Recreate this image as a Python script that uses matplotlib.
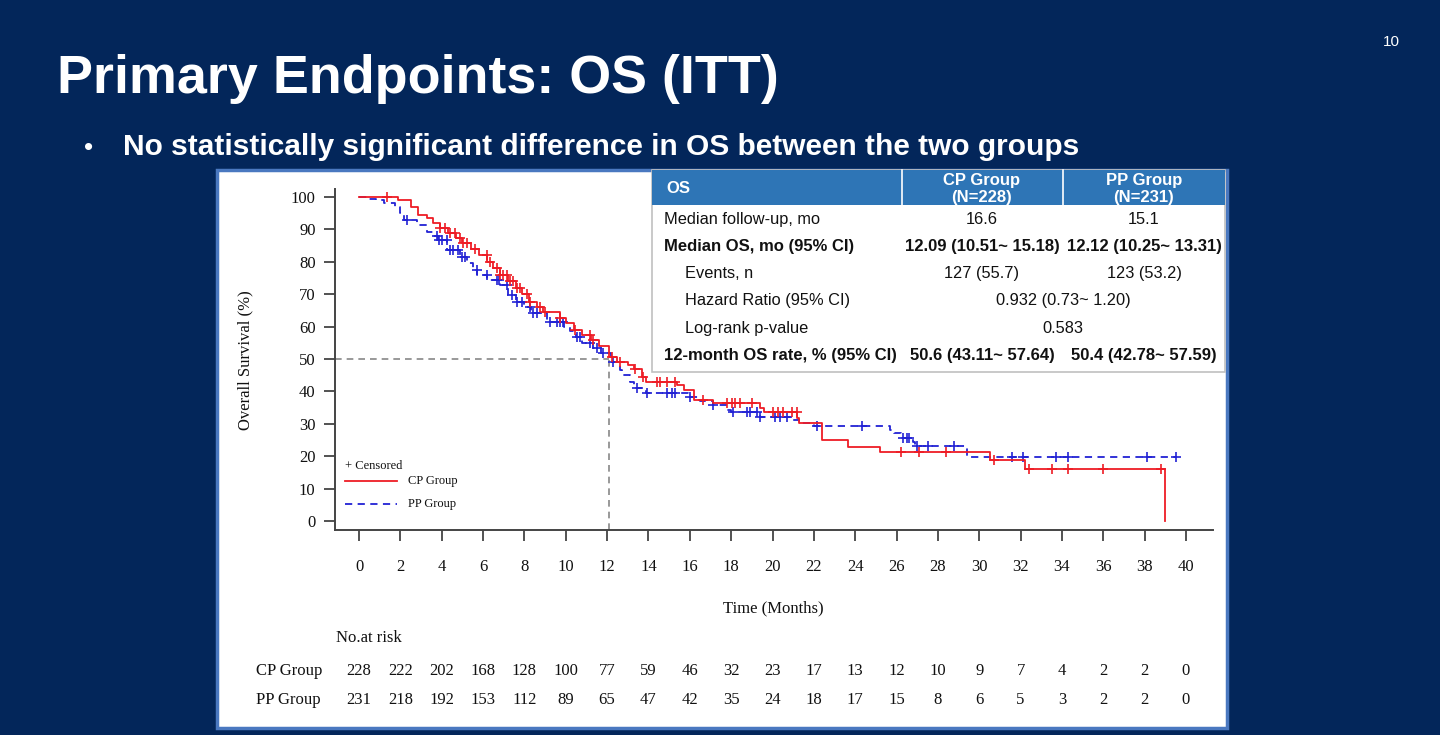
import numpy as np
import matplotlib
matplotlib.use("Agg")
import matplotlib.pyplot as plt
from matplotlib.patches import Rectangle

# ---- data ----
# Kaplan-Meier step points (months, survival %)
cp_time = [0, 1.9, 2.5, 2.85, 3.3, 3.6, 3.9, 4.3, 4.7, 5.0, 5.4, 5.8, 6.2, 6.5, 6.8,
           7.2, 7.6, 7.9, 8.2, 8.6, 8.9, 9.7, 10.0, 10.4, 10.8, 11.2, 11.6, 12.1,
           12.5, 13.0, 13.3, 13.7, 13.9, 15.4, 15.7, 16.2, 17.1, 19.4, 19.6, 21.2,
           21.3, 22.4, 23.65, 25.2, 30.5, 32.2, 39.0]
cp_surv = [100, 99, 97, 94.4, 93.5, 92, 90.4, 89, 87.5, 85.8, 84, 82, 80, 78, 76,
           74, 72, 70, 67.6, 66, 64.5, 62.6, 61, 59, 57.5, 55.9, 54, 50.6,
           49, 48, 47, 44.5, 43, 42, 40.4, 37.3, 36.4, 34.9, 33.6, 31.8,
           30.2, 25, 22.9, 21.2, 18.8, 16.0, 0]

pp_time = [0, 0.5, 0.8, 1.2, 1.75, 2.0, 2.2, 2.8, 3.3, 3.6, 3.8, 4.25, 4.9, 5.2, 5.5,
           5.7, 6.2, 6.8, 7.2, 7.6, 8.0, 8.3, 9.1, 9.9, 10.2, 10.5, 10.8, 11.3, 11.7,
           12.2, 12.6, 12.7, 13.1, 13.3, 13.9, 15.9, 16.5, 17.1, 17.8, 18.0, 19.4,
           21.0, 21.3, 22.0, 25.7, 25.9, 26.2, 26.8, 26.9, 29.4, 39.5]
pp_surv = [100, 99.5, 99, 98, 97, 95, 93, 91.4, 89.3, 88, 86.7, 83.6, 81.6, 79.6, 77.5,
           75.9, 74.4, 72.8, 69.8, 67.7, 66, 64.1, 61.5, 60, 58.5, 56.9, 55, 53.5, 51.9,
           49, 46.6, 45, 43, 41, 39.5, 38.3, 37, 35.8, 34.3, 33.7, 32.2,
           31.2, 30.2, 29.3, 28, 27.3, 25.6, 24.5, 23.1, 19.7, 19.7]

# censoring times
cp_cens = [1.34, 3.92, 4.16, 4.40, 4.64, 4.89, 5.05, 5.21, 5.61, 6.18, 6.34, 6.66, 6.82,
           6.98, 7.14, 7.30, 7.46, 7.63, 7.79, 8.11, 8.27, 8.75, 9.00, 9.72, 10.45,
           11.17, 11.33, 12.22, 12.62, 13.35, 13.75, 14.40, 14.56, 14.88, 15.28,
           16.65, 17.78, 18.03, 18.19, 18.43, 18.99, 20.04, 20.28, 20.52, 20.93,
           21.17, 26.2, 27.1, 28.4, 30.7, 32.4, 33.5, 34.3, 36.0, 38.8]
pp_cens = [2.31, 3.76, 3.89, 4.0, 4.24, 4.40, 4.56, 4.80, 4.97, 5.13, 5.69, 6.18, 6.66,
           6.79, 7.14, 7.38, 7.63, 7.87, 8.27, 8.43, 8.59, 9.24, 9.56, 9.72, 9.88,
           10.53, 10.69, 11.17, 11.50, 11.82, 12.30, 13.43, 13.92, 14.88, 15.12,
           15.28, 16.01, 17.14, 18.11, 18.75, 18.91, 19.24, 19.40, 20.12, 20.36,
           20.69, 22.14, 24.31, 26.3, 26.5, 26.6, 27.0, 27.5, 28.8, 31.6, 32.1,
           33.7, 34.3, 38.1, 39.5]

median_os = 12.1
risk_times = list(range(0, 42, 2))
cp_risk = [228, 222, 202, 168, 128, 100, 77, 59, 46, 32, 23, 17, 13, 12, 10, 9, 7, 4, 2, 2, 0]
pp_risk = [231, 218, 192, 153, 112, 89, 65, 47, 42, 35, 24, 18, 17, 15, 8, 6, 5, 3, 2, 2, 0]

# summary table
tab_header = ["OS", "CP Group\n(N=228)", "PP Group\n(N=231)"]
tab_rows = [
    ("Median follow-up, mo", "16.6", "15.1"),
    ("Median OS, mo (95% CI)", "12.09 (10.51~ 15.18)", "12.12 (10.25~ 13.31)"),
    ("Events, n", "127 (55.7)", "123 (53.2)"),
    ("Hazard Ratio (95% CI)", "0.932 (0.73~ 1.20)", None),
    ("Log-rank p-value", "0.583", None),
    ("12-month OS rate, % (95% CI)", "50.6 (43.11~ 57.64)", "50.4 (42.78~ 57.59)"),
]
tab_bold = [False, True, False, False, False, True]
tab_indent = [False, False, True, True, True, False]

# ---- colours / fonts ----
NAVY = "#03265a"
RED = "#ee1c25"
BLUE = "#2222d4"
SERIF = ["Liberation Serif", "DejaVu Serif"]
SANS = ["Liberation Sans", "DejaVu Sans"]

W, H = 1440, 735
fig = plt.figure(figsize=(W / 100, H / 100), dpi=100, facecolor=NAVY)

# background layer: white panel (pixel coords)
bg = fig.add_axes([0, 0, 1, 1], zorder=0)
bg.set_xlim(0, W)
bg.set_ylim(H, 0)
bg.axis("off")
bg.add_patch(Rectangle((217, 170), 1010, 558, facecolor="white",
                       edgecolor="#4a78c0", lw=2.5))

# title + bullet
bg.text(57, 93, "Primary Endpoints: OS (ITT)", color="white", fontsize=38.8,
        fontweight="bold", family=SANS, va="baseline")
bg.text(84, 155, "\u2022", color="white", fontsize=19, family=SANS, va="baseline")
bg.text(123, 155, "No statistically significant difference in OS between the two groups",
        color="white", fontsize=21.5, fontweight="bold", family=SANS, va="baseline")
bg.text(1391, 42, "10", color="white", fontsize=11, family=SANS, ha="center", va="center")

# ---- KM plot ----
ax_l, ax_r, ax_t, ax_b = 335, 1213, 189, 530
ax = fig.add_axes([ax_l / W, 1 - ax_b / H, (ax_r - ax_l) / W, (ax_b - ax_t) / H], zorder=1)
ax.patch.set_alpha(0)
ax.set_xlim(-24 / 20.675, (ax_r - 359) / 20.675)
ax.set_ylim((521 - ax_b) / 3.24, (521 - ax_t) / 3.24)
for s in ["top", "right"]:
    ax.spines[s].set_visible(False)
for s in ["left", "bottom"]:
    ax.spines[s].set_color("#444444")
    ax.spines[s].set_linewidth(1.4)
ax.set_xticks(risk_times)
ax.set_yticks(range(0, 101, 10))
ax.tick_params(axis="x", length=8, width=1.3, color="#444444", pad=13, labelsize=12)
ax.tick_params(axis="y", length=8, width=1.3, color="#444444", pad=6, labelsize=12)
for lab in ax.get_xticklabels() + ax.get_yticklabels():
    lab.set_family(SERIF)
    lab.set_color("#111111")


def step_val(times, surv, t):
    i = np.searchsorted(times, t, side="right") - 1
    return np.asarray(surv)[i]


# median reference lines
ax.plot([ax.get_xlim()[0], median_os], [50, 50], color="#888888", lw=1.2,
        ls=(0, (4, 3)), zorder=1)
ax.plot([median_os, median_os], [ax.get_ylim()[0], 50], color="#888888", lw=1.2,
        ls=(0, (4, 3)), zorder=1)

ax.step(cp_time, cp_surv, where="post", color=RED, lw=1.3, zorder=3)
ax.step(pp_time, pp_surv, where="post", color=BLUE, lw=1.3, ls=(0, (4, 3)), zorder=2)
ax.plot(cp_cens, step_val(cp_time, cp_surv, cp_cens), ls="none", marker="+",
        ms=7, mew=1.2, color=RED, zorder=3)
ax.plot(pp_cens, step_val(pp_time, pp_surv, pp_cens), ls="none", marker="+",
        ms=7, mew=1.2, color=BLUE, zorder=2)

# legend (drawn in pixel coords)
ov = fig.add_axes([0, 0, 1, 1], zorder=2)
ov.set_xlim(0, W)
ov.set_ylim(H, 0)
ov.axis("off")
ov.patch.set_alpha(0)
ov.text(345, 466, "+ Censored", fontsize=9, family=SERIF, va="center", color="#111111")
ov.plot([345, 397], [481, 481], color=RED, lw=1.3)
ov.text(408, 481, "CP Group", fontsize=9, family=SERIF, va="center", color="#111111")
ov.plot([345, 397], [504, 504], color=BLUE, lw=1.3, ls=(0, (4, 3)))
ov.text(408, 504, "PP Group", fontsize=9, family=SERIF, va="center", color="#111111")

# axis labels
ov.text(245, 360, "Overall Survival (%)", rotation=90, fontsize=12, family=SERIF,
        ha="center", va="center", color="#111111")
ov.text(773, 608, "Time (Months)", fontsize=12, family=SERIF, ha="center",
        va="center", color="#111111")

# number at risk
ov.text(336, 638, "No.at risk", fontsize=12, family=SERIF, va="center", color="#111111")
ov.text(256, 671, "CP Group", fontsize=12, family=SERIF, va="center", color="#111111")
ov.text(256, 700, "PP Group", fontsize=12, family=SERIF, va="center", color="#111111")
risk_tr = ax.get_xaxis_transform()
for t, c, p in zip(risk_times, cp_risk, pp_risk):
    ax.text(t, -(671 - ax_b) / (ax_b - ax_t), str(c), transform=risk_tr, ha="center",
            va="center", fontsize=12, family=SERIF, color="#111111", clip_on=False)
    ax.text(t, -(700 - ax_b) / (ax_b - ax_t), str(p), transform=risk_tr, ha="center",
            va="center", fontsize=12, family=SERIF, color="#111111", clip_on=False)

# ---- summary table (pixel coords) ----
tx0, tx1, ty0, ty1, thead = 652, 1225, 170, 372, 205
col_div = [902, 1063]
col_c = [982, 1144]
ov.add_patch(Rectangle((tx0, ty0), tx1 - tx0, ty1 - ty0, facecolor="white",
                       edgecolor="#c0c0c0", lw=1.2))
ov.add_patch(Rectangle((tx0, ty0), tx1 - tx0, thead - ty0, facecolor="#2e75b6",
                       edgecolor="none"))
for xd in col_div:
    ov.plot([xd, xd], [ty0, thead], color="white", lw=1.2)
ov.text(666, 188, tab_header[0], color="white", fontsize=12, fontweight="bold",
        family=SANS, va="center")
for xc, h in zip(col_c, tab_header[1:]):
    l1, l2 = h.split("\n")
    ov.text(xc, 180, l1, color="white", fontsize=12, fontweight="bold", family=SANS,
            ha="center", va="center")
    ov.text(xc, 197, l2, color="white", fontsize=12, fontweight="bold", family=SANS,
            ha="center", va="center")

row_y = [219, 246, 273, 300, 328, 355]
for y, row, b, ind in zip(row_y, tab_rows, tab_bold, tab_indent):
    fw = "bold" if b else "normal"
    fs = 12 if b else 11.8
    ov.text(685 if ind else 664, y, row[0], fontsize=fs, fontweight=fw, family=SANS,
            va="center", color="#111111")
    if row[2] is None:
        ov.text(1063, y, row[1], fontsize=fs, fontweight=fw, family=SANS,
                ha="center", va="center", color="#111111")
    else:
        ov.text(col_c[0], y, row[1], fontsize=fs, fontweight=fw, family=SANS,
                ha="center", va="center", color="#111111")
        ov.text(col_c[1], y, row[2], fontsize=fs, fontweight=fw, family=SANS,
                ha="center", va="center", color="#111111")

fig.savefig("out.png", dpi=100, facecolor=NAVY)
